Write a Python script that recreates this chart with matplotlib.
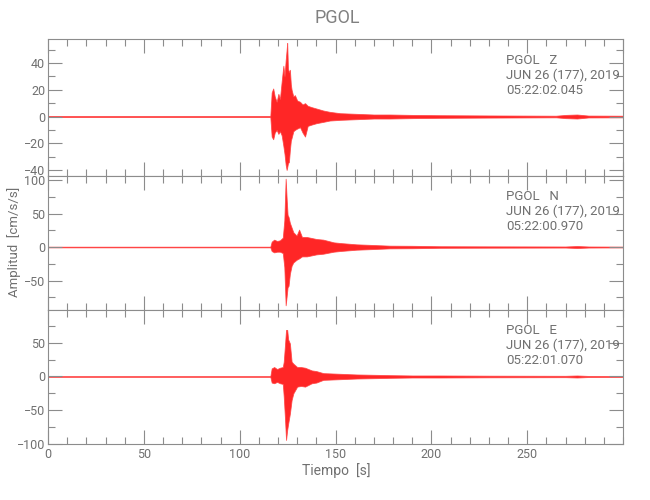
import numpy as np
import matplotlib
matplotlib.use("Agg")
import matplotlib.pyplot as plt
from matplotlib.ticker import MultipleLocator

# --- envolventes (t en s, amplitud en cm/s/s) ---
t_z = [0, 116.0, 116.7, 117.5, 118.3, 119.3, 120.2, 121.0, 121.9, 122.8, 123.4,
       124.0, 124.5, 124.8, 125.2, 125.7, 126.2, 126.7, 127.1, 128.0, 128.8, 130.0,
       131.5, 132.8, 134.1, 135.5, 137.6, 140.0, 143.6, 147.0, 152.3, 161.0, 170.0,
       178.4, 190.0, 204.5, 230.0, 265.0, 270.0, 276.0, 282.0, 300.0]
up_z = [0.4, 0.4, 18, 21, 15, 11, 17, 13, 26, 38, 30, 42, 50, 55, 36, 33, 35, 24, 20,
        15, 16, 12, 11, 9, 10, 8, 7, 6, 4.5, 3.5, 2.5, 2, 1.5, 1.5, 1.2, 1, 0.8, 0.6,
        1.2, 1.5, 0.7, 0.6]
lo_z = [-0.4, -0.4, -15, -17, -12, -10, -13, -11, -14, -22, -28, -36, -40, -38, -35,
        -34, -25, -18, -16, -11, -10, -9, -8, -12, -15, -7, -6, -5, -4, -3, -2.5, -2,
        -1.5, -1.5, -1.2, -1, -0.8, -0.6, -1.2, -1.5, -0.7, -0.6]

t_n = [0, 116.0, 116.7, 118.0, 119.5, 121.0, 122.5, 123.3, 124.0, 124.5, 125.0,
       125.5, 126.2, 127.1, 128.0, 129.7, 131.0, 132.5, 135.0, 140.0, 143.6, 149.0,
       152.3, 161.0, 170.0, 178.4, 190.0, 204.5, 230.0, 270.0, 276.0, 282.0, 300.0]
up_n = [0.5, 0.5, 8, 11, 9, 10, 14, 40, 102, 73, 48, 45, 36, 29, 22, 17, 26, 15, 15,
        12, 11, 7, 6, 4, 3, 2, 1.8, 1.2, 1, 0.8, 1.5, 0.8, 0.6]
lo_n = [-0.5, -0.5, -6, -8, -7, -7, -9, -30, -87, -74, -60, -58, -40, -28, -23, -19,
        -17, -14, -14, -11, -10, -7, -6, -4, -3, -2, -1.8, -1.2, -1, -0.8, -1.5, -0.8,
        -0.6]

t_e = [0, 116.0, 116.7, 118.0, 119.5, 121.0, 122.5, 123.0, 123.6, 124.2, 124.8,
       125.3, 126.2, 127.1, 128.0, 130.0, 132.0, 134.1, 137.6, 140.0, 143.6, 152.3,
       161.0, 170.0, 178.4, 190.0, 204.5, 230.0, 270.0, 276.0, 282.0, 300.0]
up_e = [0.5, 0.5, 12, 14, 11, 13, 14, 22, 45, 69, 69, 55, 49, 22, 19, 14, 14, 13,
        9, 8, 5, 4, 3, 2.5, 2, 1.5, 1.5, 1.2, 1, 1.5, 0.8, 0.6]
lo_e = [-0.5, -0.5, -9, -10, -8, -10, -11, -30, -60, -94, -79, -70, -55, -35, -25,
        -15, -14, -15, -10, -9, -5, -4, -3, -2.5, -2, -1.5, -1.5, -1.2, -1, -1.5, -0.8,
        -0.6]

comps = ["Z", "N", "E"]
horas = ["05:22:02.045", "05:22:00.970", "05:22:01.070"]
fecha = "JUN 26 (177), 2019"
estacion = "PGOL"

ylims = [(-44.5, 58), (-94, 106), (-100, 98.5)]
ymajor = [20, 50, 50]
yminor = [10, 25, 25]

# --- estilo ---
fuente = ["Roboto", "DejaVu Sans"]
gris_txt = "#707070"
gris_eje = "#8c8c8c"

fig = plt.figure(figsize=(6.5, 5), dpi=100)
izq, ancho = 48 / 650, 575 / 650
cajas = [(39, 176), (176, 310), (310, 444)]

datos = [(t_z, up_z, lo_z), (t_n, up_n, lo_n), (t_e, up_e, lo_e)]

for i, ((t, up, lo), (ytop, ybot)) in enumerate(zip(datos, cajas)):
    ax = fig.add_axes([izq, 1 - ybot / 500, ancho, (ybot - ytop) / 500])
    ax.fill_between(t, lo, up, color="red", alpha=0.85, lw=0.6, edgecolor="#ff4040")
    ax.set_xlim(0, 300)
    ax.set_ylim(*ylims[i])

    ax.xaxis.set_major_locator(MultipleLocator(50))
    ax.xaxis.set_minor_locator(MultipleLocator(10))
    ax.yaxis.set_major_locator(MultipleLocator(ymajor[i]))
    ax.yaxis.set_minor_locator(MultipleLocator(yminor[i]))
    ax.tick_params(which="both", direction="in", top=True, right=True,
                   color=gris_eje, labelcolor=gris_txt, width=0.8)
    ax.tick_params(which="major", length=10)
    ax.tick_params(which="minor", length=5)
    ax.tick_params(axis="y", pad=2)
    ax.tick_params(axis="x", pad=3)
    for s in ax.spines.values():
        s.set_color(gris_eje)
        s.set_linewidth(0.8)
    if i < 2:
        ax.tick_params(axis="x", labelbottom=False)
    else:
        ax.set_xticks([0, 50, 100, 150, 200, 250])
    for lab in ax.get_xticklabels() + ax.get_yticklabels():
        lab.set_family(fuente)
        lab.set_fontsize(9)

    ax.text(0.797, 0.735, f"{estacion}   {comps[i]}\n{fecha}\n{horas[i]}",
            transform=ax.transAxes, ha="left", va="center", fontsize=9.5,
            color=gris_txt, family=fuente, linespacing=1.2)

fig.text(337 / 650, 1 - 18 / 500, estacion, ha="center", va="center",
         fontsize=13, color="#808080", family=fuente)
fig.text(336 / 650, 1 - 471 / 500, "Tiempo  [s]", ha="center", va="center",
         fontsize=10, color=gris_txt, family=fuente)
fig.text(14 / 650, 1 - 242 / 500, "Amplitud  [cm/s/s]", ha="center", va="center",
         rotation=90, fontsize=9.5, color=gris_txt, family=fuente)

fig.savefig("out.png", dpi=100)
